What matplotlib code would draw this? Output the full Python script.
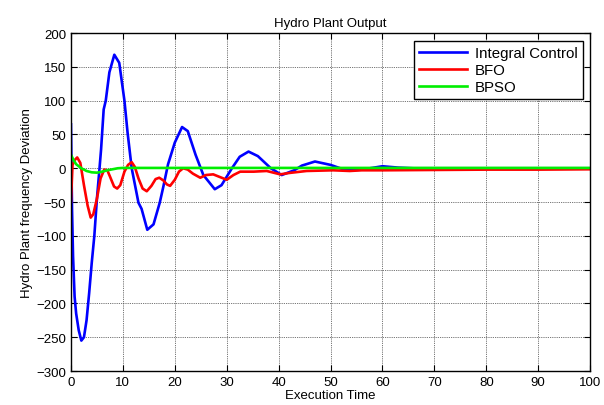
import numpy as np
import matplotlib
matplotlib.use("Agg")
import matplotlib.pyplot as plt

plt.rcParams['font.family'] = ['Liberation Sans', 'DejaVu Sans']

# Integral Control
t_int = [0, 0.2, 0.4, 0.7, 1.0, 1.5, 2.0, 2.5, 3.0, 3.5, 4.0, 4.5, 5.0, 5.5, 5.8, 6.3, 6.7,
         7.4, 8.35, 9.3, 10.3, 10.9, 11.7, 13.0, 13.6, 14.7, 15.9, 17.1, 17.8, 18.7, 20.0,
         21.4, 22.5, 24.0, 25.5, 27.7, 29.0, 31.0, 32.5, 34.2, 36.0, 38.5, 40.6, 43.0, 44.5,
         47.0, 50.0, 53.0, 56.0, 60.0, 63.0, 66.0, 80.0, 100.0]
v_int = [65, -60, -130, -190, -215, -240, -255, -250, -225, -185, -140, -100, -45, 0, 28, 87, 100,
         142, 168, 156, 100, 53, 0, -51, -60, -91, -83, -51, -27, 6, 38,
         61, 55, 20, -10, -31, -25, 0, 17, 24.7, 18, 0, -10, -3, 4,
         10, 5, -3, -2, 3, 1, 0, 0, 0]

# BFO
t_bfo = [0, 0.3, 0.7, 1.2, 1.8, 2.5, 3.2, 3.8, 4.3, 5.0, 5.7, 6.4, 7.0, 7.5, 8.3, 8.9, 9.5,
         10.3, 11.0, 11.7, 12.3, 13.0, 13.8, 14.6, 15.5, 16.3, 17.0, 17.8, 18.5, 19.1, 20.0,
         20.8, 21.6, 22.5, 23.5, 24.9, 26.0, 27.4, 28.7, 30.0, 31.3, 32.6, 35.2, 37.7, 40.3,
         42.0, 45.4, 50.5, 53.7, 56.0, 60.0, 70.0, 80.0, 90.0, 100.0]
v_bfo = [-50, 5, 12, 16, 8, -25, -55, -73, -68, -45, -15, -2, -3, -12, -27, -30, -25,
         -5, 5, 9, 2, -15, -30, -34, -26, -16, -14, -18, -24, -26, -17,
         -5, 0, -2, -8, -14, -10, -9, -13, -17, -10, -5, -5, -4, -9,
         -7, -4, -3, -4, -3, -3, -2.5, -2, -2, -1.5]

# BPSO
t_bpso = [0, 0.5, 1, 2, 3, 4, 5, 6, 7, 8, 9, 10, 20, 40, 60, 80, 100]
v_bpso = [20, 12, 6, 0, -4, -6, -6.5, -5, -3, -1.5, 0, 0.5, 0.5, 0.5, 0.5, 0.5, 0.5]

fig = plt.figure(figsize=(6.04, 4.06), dpi=100)
ax = fig.add_axes([0.1175, 0.0837, 0.8595, 0.8323])

ax.plot(t_int, v_int, color='#0000ff', lw=1.9, label='Integral Control')
ax.plot(t_bfo, v_bfo, color='#ff0000', lw=1.9, label='BFO')
ax.plot(t_bpso, v_bpso, color='#00ee00', lw=1.9, label='BPSO')

ax.set_xlim(0, 100)
ax.set_ylim(-300, 200)
ax.set_xticks(np.arange(0, 101, 10))
ax.set_yticks(np.arange(-300, 201, 50))
ax.tick_params(direction='in', labelsize=9.5, length=4, top=True, right=True)
ax.grid(True, color='#444444', linestyle=(0, (1, 1.2)), linewidth=0.6)
for s in ax.spines.values():
    s.set_linewidth(1.0)

ax.set_title('Hydro Plant Output', fontsize=9.5, pad=5)
ax.set_xlabel('Execution Time', fontsize=9.5, labelpad=1)
ax.set_ylabel('Hydro Plant frequency Deviation', fontsize=9.5, labelpad=2)

leg = ax.legend(loc='upper right', fontsize=10.8, fancybox=False, framealpha=1,
                edgecolor='black', borderaxespad=0.5, handlelength=3.2,
                handletextpad=0.5, labelspacing=0.2, borderpad=0.35)
leg.get_frame().set_linewidth(1.0)

fig.savefig('out.png', dpi=100)
